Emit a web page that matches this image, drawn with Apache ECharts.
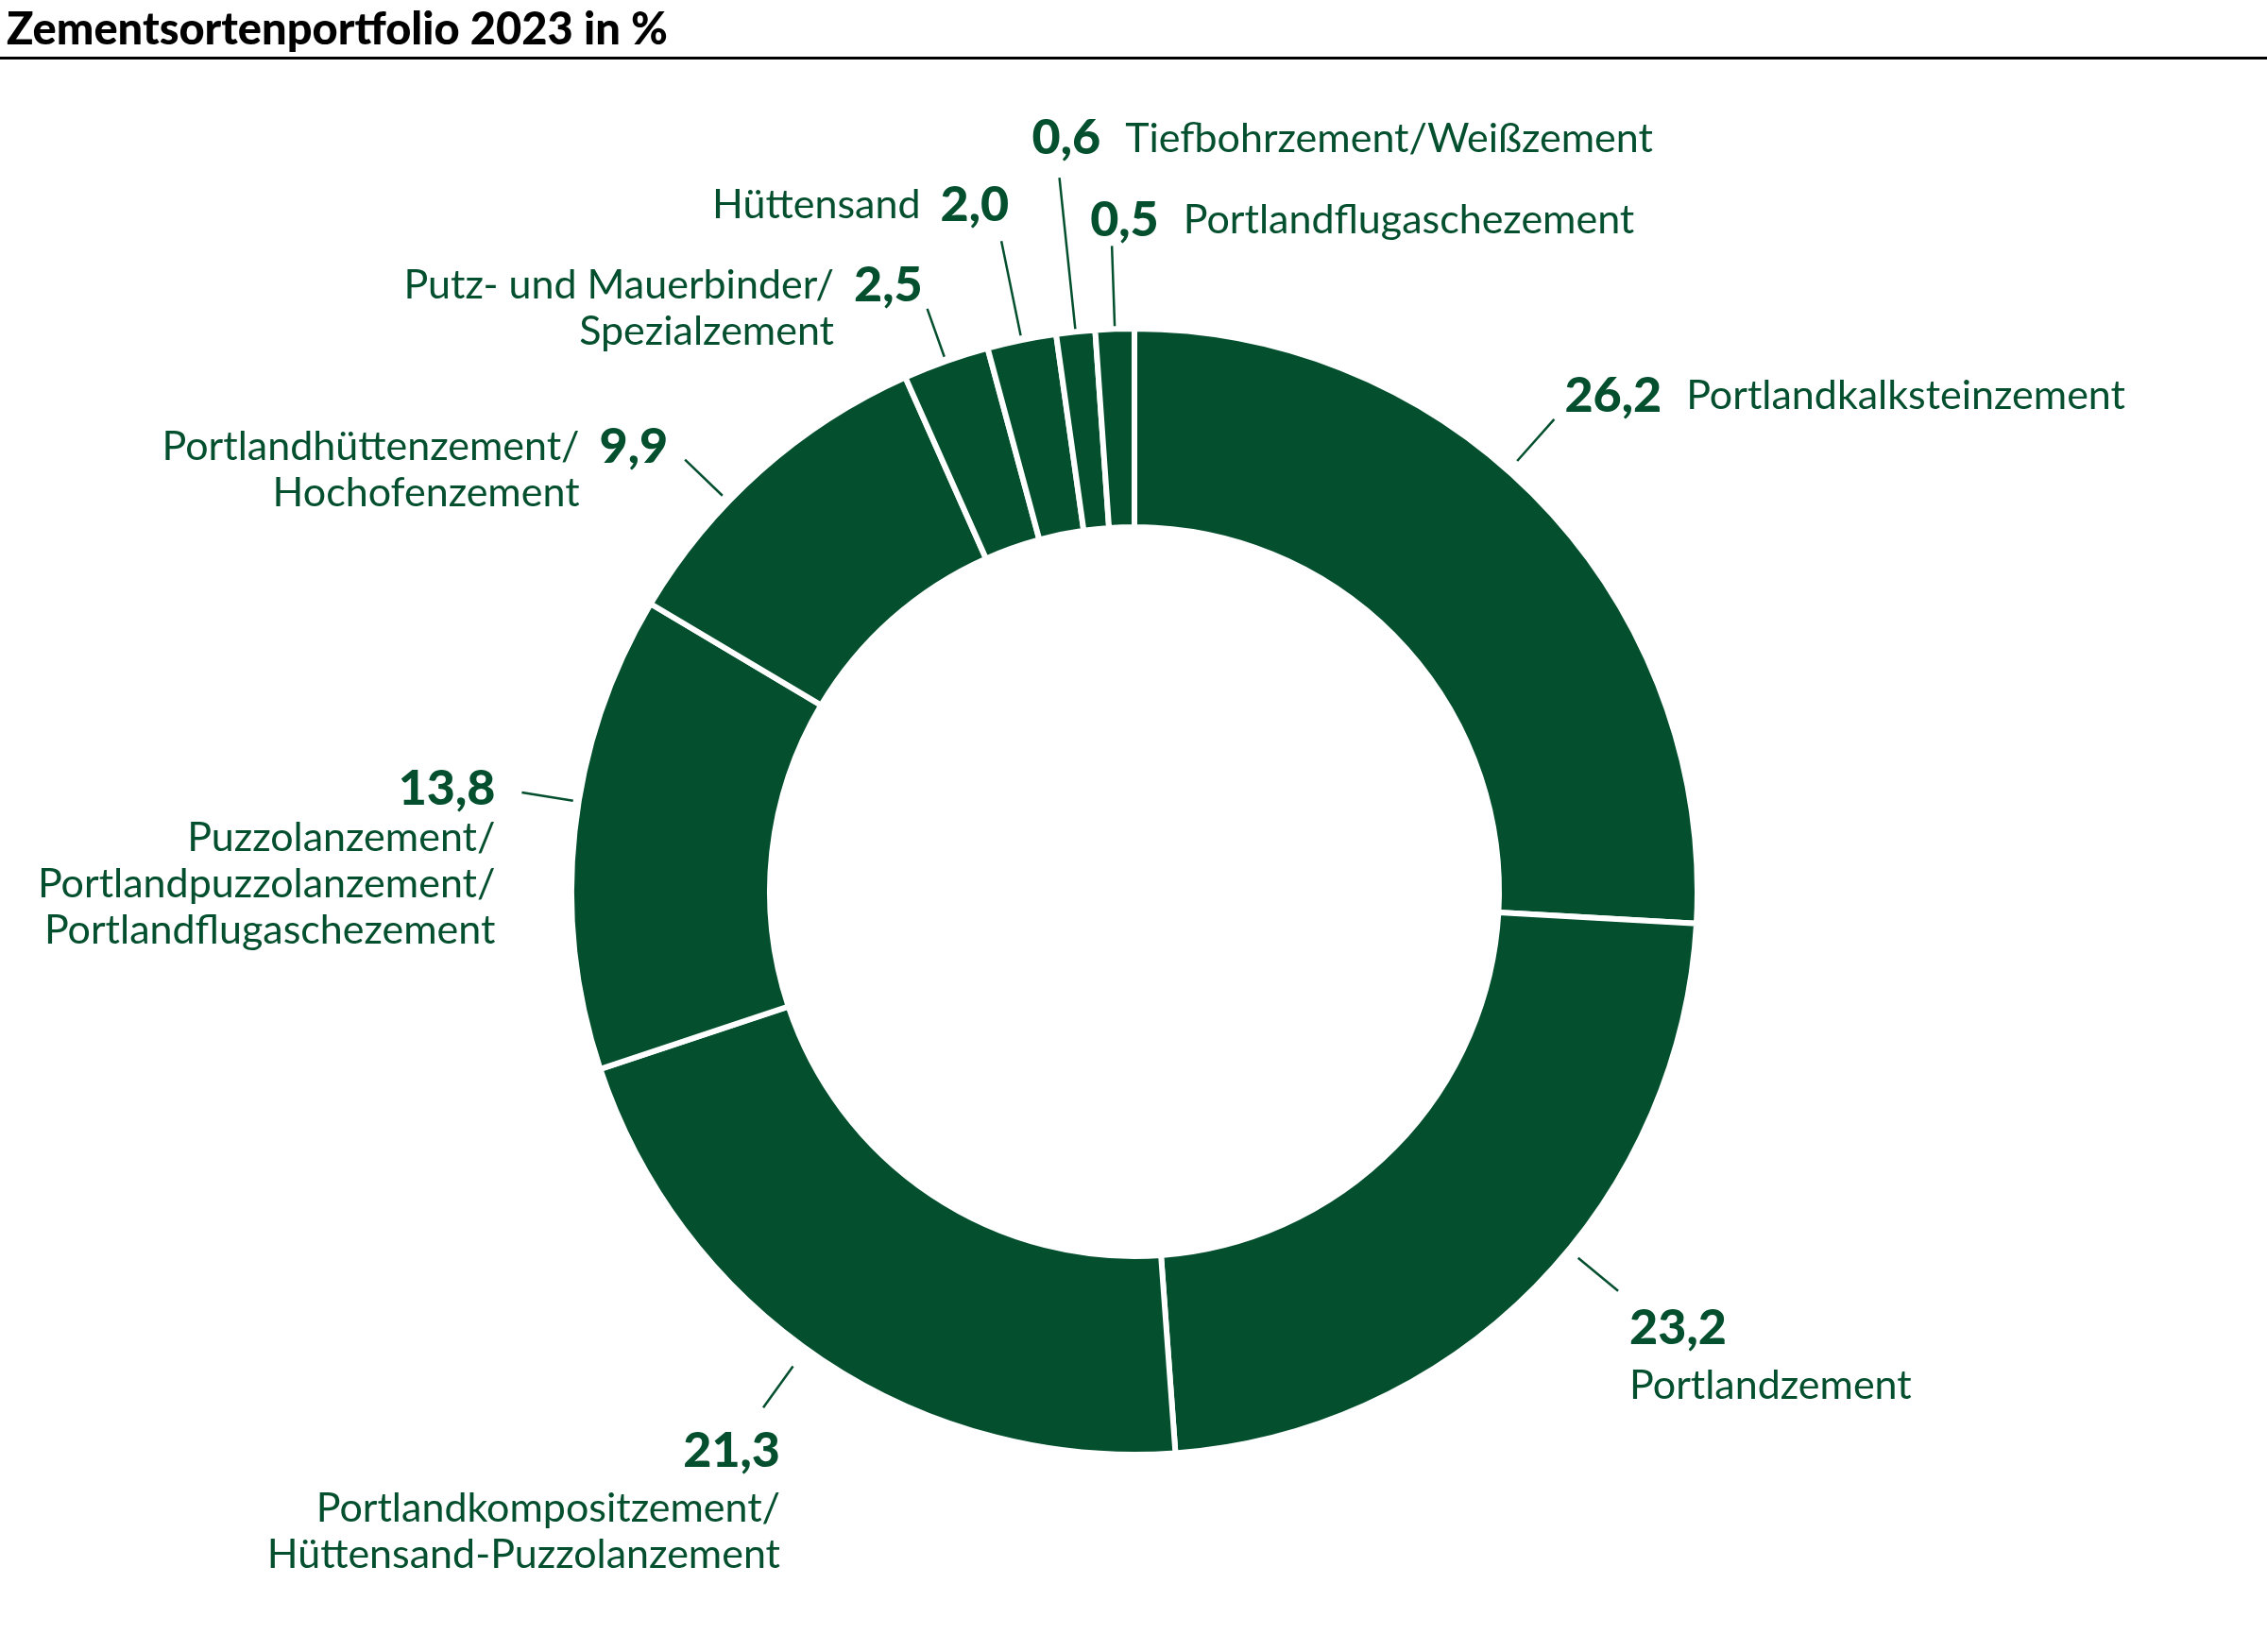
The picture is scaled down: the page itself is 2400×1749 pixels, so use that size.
<!DOCTYPE html>
<html>
<head>
<meta charset="utf-8">
<script src="https://cdn.jsdelivr.net/npm/echarts@6/dist/echarts.min.js"></script>
<style>
  html, body { margin: 0; padding: 0; background: #fff; }
  #chart { width: 2400px; height: 1749px; }
</style>
</head>
<body>
<div id="chart"></div>
<script>
var titleText = 'Zementsortenportfolio 2023 in %';
var categories = [
  'Portlandkalksteinzement',
  'Portlandzement',
  'Portlandkompositzement/\nHüttensand-Puzzolanzement',
  'Puzzolanzement/\nPortlandpuzzolanzement/\nPortlandflugaschezement',
  'Portlandhüttenzement/\nHochofenzement',
  'Putz- und Mauerbinder/\nSpezialzement',
  'Hüttensand',
  'Tiefbohrzement/Weißzement',
  'Portlandflugaschezement'
];
var shares = [26.2, 23.2, 21.3, 13.8, 9.9, 2.5, 2.0, 0.6, 0.5];

var GREEN = '#034f2e';
var FONT = 'Lato';
var CX = 1201, CY = 944, R0 = 386, R1 = 596;

// how each label sits at the end of its leader line
var labelStyle = [
  { kind: 'after',  gap: 17, len: 76,  rot: -5,   dx: 11,  dy: -49, align: 'left' },
  { kind: 'stack',  gap: 16, len: 71,  rot: -5,   dx: 12,  dy: 4,   align: 'left',  v: 'v' },
  { kind: 'stack',  gap: 26, len: 80,  rot: 2,    dx: 18,  dy: 10,  align: 'right', v: 'v' },
  { kind: 'stack',  gap: 9,  len: 64,  rot: 3,    dx: -28, dy: -31, align: 'right', v: 'vb' },
  { kind: 'before', gap: 12, len: 67,  rot: -4.5, dx: -18, dy: -38, align: 'right' },
  { kind: 'before', gap: 8,  len: 62,  rot: 0,    dx: -5,  dy: -49, align: 'right' },
  { kind: 'before', gap: 8,  len: 110, rot: 0,    dx: 8,   dy: -63, align: 'right' },
  { kind: 'after',  gap: 5,  len: 167, rot: 0,    dx: -29, dy: -66, align: 'left' },
  { kind: 'after',  gap: 4,  len: 91,  rot: 0,    dx: -23, dy: -52, align: 'left' }
];

function fmt(v) {
  return v.toFixed(1).replace('.', ',');
}

function labelText(params) {
  var i = params.dataIndex;
  var s = labelStyle[i];
  var val = fmt(shares[i]);
  var lines = categories[i].split('\n');
  if (s.kind === 'after') {
    return '{va|' + val + '}{n|' + lines[0] + '}';
  }
  if (s.kind === 'stack') {
    return '{' + s.v + '|' + val + '}\n' + lines.map(function (l) {
      return '{n|' + l + '}';
    }).join('\n');
  }
  return lines.map(function (l, k) {
    return '{n|' + l + '}' + (k === 0 ? '{vz|' + val + '}' : '{vh|' + val + '}');
  }).join('\n');
}

function placeLabel(params) {
  var s = labelStyle[params.dataIndex];
  var pts = params.labelLinePoints;
  if (!pts) return {};
  var a = Math.atan2(pts[1][1] - pts[0][1], pts[1][0] - pts[0][0]) + s.rot * Math.PI / 180;
  var ux = Math.cos(a), uy = Math.sin(a);
  var r1 = R1 - 3;
  var p1 = [CX + (r1 + s.gap) * ux, CY + (r1 + s.gap) * uy];
  var p2 = [CX + (r1 + s.len) * ux, CY + (r1 + s.len) * uy];
  return {
    x: p2[0] + s.dx,
    y: p2[1] + s.dy,
    align: s.align,
    verticalAlign: 'top',
    labelLinePoints: [p1, p2, p2]
  };
}

function valueStyle(extra) {
  var o = { fontFamily: FONT, fontSize: 52, fontWeight: 900, color: GREEN };
  for (var k in extra) o[k] = extra[k];
  return o;
}

var chart = echarts.init(document.getElementById('chart'), null, { renderer: 'canvas' });

chart.setOption({
  backgroundColor: '#fff',
  animation: false,
  title: {
    text: titleText,
    left: 2,
    top: 3,
    textStyle: { fontFamily: FONT, fontSize: 47, fontWeight: 900, color: '#000' }
  },
  graphic: [{
    type: 'rect',
    shape: { x: 0, y: 60, width: 2400, height: 3 },
    style: { fill: '#000' },
    silent: true
  }],
  series: [{
    type: 'pie',
    center: [CX, CY],
    radius: [R0, R1],
    startAngle: 90,
    clockwise: true,
    minAngle: 4,
    avoidLabelOverlap: false,
    silent: true,
    itemStyle: { color: GREEN, borderColor: '#fff', borderWidth: 6 },
    label: {
      show: true,
      position: 'outside',
      formatter: labelText,
      color: GREEN,
      rich: {
        v:  valueStyle({ lineHeight: 72 }),
        vb: valueStyle({ lineHeight: 55 }),
        va: valueStyle({ lineHeight: 49, padding: [0, 26, 0, 0] }),
        vz: valueStyle({ lineHeight: 49, padding: [0, 0, 0, 21] }),
        vh: valueStyle({ lineHeight: 49, padding: [0, 0, 0, 21], color: 'rgba(0,0,0,0)' }),
        n:  { fontFamily: FONT, fontSize: 43, color: GREEN, lineHeight: 49 }
      }
    },
    labelLine: {
      show: true,
      length: 60,
      length2: 0,
      lineStyle: { color: GREEN, width: 2.5 }
    },
    labelLayout: placeLabel,
    data: shares.map(function (v, i) {
      return { name: categories[i], value: v, labelLine: { length: labelStyle[i].len } };
    })
  }]
});
</script>
</body>
</html>
